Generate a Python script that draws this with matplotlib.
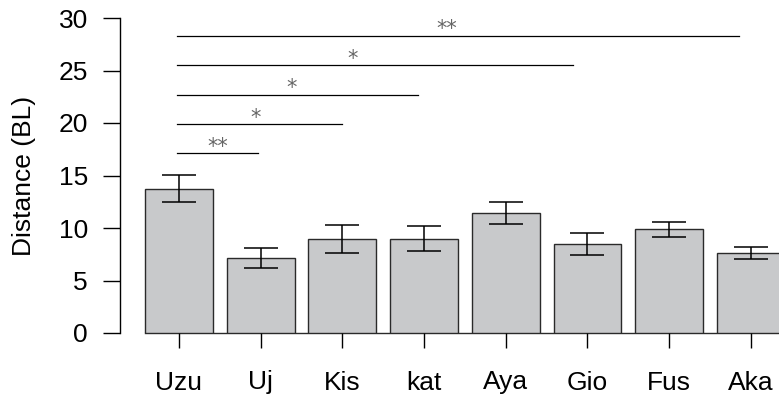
import matplotlib.pyplot as plt

plt.rcParams['font.family'] = ['Liberation Sans', 'DejaVu Sans']

sites = ['Uzu', 'Uj', 'Kis', 'kat', 'Aya', 'Gio', 'Fus', 'Aka']
distance = [13.75, 7.15, 8.95, 9.0, 11.43, 8.47, 9.86, 7.62]
sem = [1.3, 0.95, 1.32, 1.15, 1.05, 1.05, 0.69, 0.57]

# pairwise comparisons against Uzu: line height, line end, star position, label
sig_y = [17.1, 19.9, 22.7, 25.5, 28.3]
sig_end = [0.97, 1.99, 2.93, 4.82, 6.85]
sig_text_x = [0.48, 0.94, 1.38, 2.13, 3.28]
sig_labels = ['**', '*', '*', '*', '**']

fig = plt.figure(figsize=(7.79, 3.99), dpi=100)
ax = fig.add_axes([120 / 779, 66 / 399, 659 / 779, 315 / 399])

x = list(range(len(sites)))
ax.bar(x, distance, width=0.832, color='#c8c9cb', edgecolor='#2a2a2a',
       linewidth=1.0, zorder=2)
ax.errorbar(x, distance, yerr=sem, fmt='none', ecolor='black',
            elinewidth=1.1, capsize=12, capthick=1.1, zorder=3)
ax.plot([-0.416, 7.6], [0, 0], color='#2a2a2a', lw=1.0, zorder=1,
        clip_on=False)

for y, xe, xt, lab in zip(sig_y, sig_end, sig_text_x, sig_labels):
    ax.plot([-0.02, xe], [y, y], color='black', lw=0.9)
    ax.text(xt, y + 0.62, lab, ha='center', va='center', fontsize=15,
            color='#666666', family='DejaVu Sans')

ax.set_xlim(-0.722, 7.344)
ax.set_ylim(0, 30)
ax.set_yticks([0, 5, 10, 15, 20, 25, 30])
ax.set_xticks(x)
ax.set_xticklabels(sites)

for side in ['top', 'right', 'bottom']:
    ax.spines[side].set_visible(False)
ax.spines['left'].set_bounds(0, 30)
ax.spines['left'].set_linewidth(1.0)
ax.tick_params(axis='y', length=12, width=1.0, pad=11, labelsize=19,
               direction='out')
ax.tick_params(axis='x', length=11, width=1.0, pad=16, labelsize=19,
               direction='out')

ax.set_ylabel('Distance (BL)', fontsize=19, labelpad=16)

fig.savefig('out.png', dpi=100)
